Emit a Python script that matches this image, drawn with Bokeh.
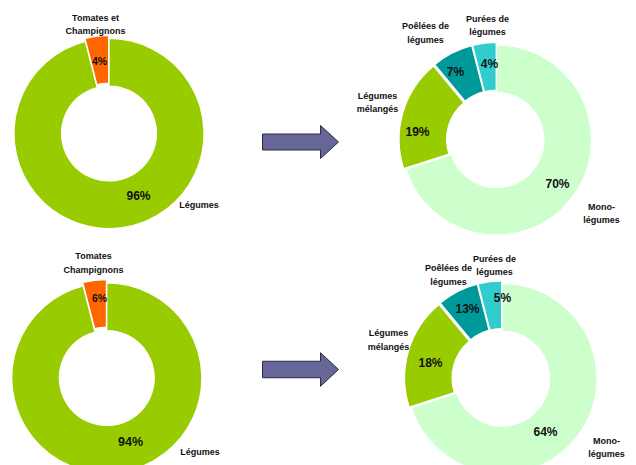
import numpy as np
from bokeh.plotting import figure
from bokeh.models import Range1d
from bokeh.core.properties import value
from bokeh.embed import file_html
from bokeh.resources import INLINE

# ---------------- data ----------------
left_categories = ["Légumes", "Tomates et Champignons"]
left_colors = ["#99CC00", "#FF6600"]
top_left_shares = [96, 4]          # slice sizes as drawn
bottom_left_shares = [96, 4]       # slice sizes as drawn in the picture
top_left_pct = ["96%", "4%"]
bottom_left_pct = ["94%", "6%"]
top_left_names = ["Légumes", "Tomates et\nChampignons"]
bottom_left_names = ["Légumes", "Tomates\nChampignons"]

right_categories = ["Mono-légumes", "Légumes mélangés", "Poêlées de légumes", "Purées de légumes"]
right_colors = ["#CCFFCC", "#99CC00", "#009999", "#33CCCC"]
top_right_shares = [70, 19, 7, 4]
bottom_right_shares = [70, 19, 7, 4]   # slice sizes as drawn in the picture
top_right_pct = ["70%", "19%", "7%", "4%"]
bottom_right_pct = ["64%", "18%", "13%", "5%"]
right_names = ["Mono-\nlégumes", "Légumes\nmélangés", "Poêlées de\nlégumes", "Purées de\nlégumes"]

# ---------------- layout ----------------
W, H = 636, 465
R_OUT, R_IN = 95, 47.5
FONT = value("Liberation Sans")

p = figure(width=W, height=H, output_backend="svg", toolbar_location=None,
           x_range=Range1d(0, W), y_range=Range1d(0, H),
           x_axis_location=None, y_axis_location=None, min_border=0)
p.grid.visible = False
p.outline_line_color = None
p.background_fill_color = "white"
p.border_fill_color = "white"


def Y(ypx):
    return H - np.asarray(ypx, dtype=float)


def donut(cx, cy_px, shares, colors, explode):
    fr = np.asarray(shares, dtype=float) / sum(shares)
    cum = np.concatenate([[0.0], np.cumsum(fr)])
    start = np.pi / 2 - 2 * np.pi * cum[1:]
    end = np.pi / 2 - 2 * np.pi * cum[:-1]
    mid = (start + end) / 2
    ex = np.asarray(explode, dtype=float)
    xs = cx + ex * np.cos(mid)
    ys = Y(cy_px) + ex * np.sin(mid)
    p.annular_wedge(x=xs, y=ys, inner_radius=R_IN, outer_radius=R_OUT,
                    start_angle=start, end_angle=end, direction="anticlock",
                    fill_color=colors, line_color="white", line_width=1.2)


def labels(xs, ys_px, texts, size, line_height=1.35):
    p.text(x=xs, y=Y(ys_px), text=texts, text_font=FONT, text_font_style="bold",
           text_font_size=size, text_align="center", text_baseline="middle",
           text_line_height=line_height, text_color="#111111")


def arrow(x0, x1, x2, yc, body_h, head_h):
    xs = [x0, x1, x1, x2, x1, x1, x0]
    ys = [yc - body_h / 2, yc - body_h / 2, yc - head_h / 2, yc,
          yc + head_h / 2, yc + body_h / 2, yc + body_h / 2]
    p.patch(x=xs, y=Y(ys), fill_color="#666699", line_color="#2b2b3a", line_width=1)


# top-left
donut(108.5, 133, top_left_shares, left_colors, [0, 3])
labels([138, 99], [195, 60], top_left_pct, ["12px", "10.5px"])
labels([198.5, 95], [204, 24], top_left_names, "9px")

# bottom-left
donut(106.3, 377.5, bottom_left_shares, left_colors, [0, 3.5])
labels([130, 99], [441, 297], bottom_left_pct, ["12.5px", "10.5px"])
labels([199.5, 93], [451, 262.5], bottom_left_names, "9px")

# top-right
donut(496, 139.5, top_right_shares, right_colors, [0, 2.5, 2.5, 2.5])
labels([557, 417, 455, 489], [183, 131, 71, 63], top_right_pct, "12px")
labels([601, 377, 425, 487], [213, 102, 32.5, 25], right_names, "9px")

# bottom-right
donut(501.5, 378, bottom_right_shares, right_colors, [0, 2.5, 2.5, 2.5])
labels([545, 430, 467, 502], [431, 362, 308, 297], bottom_right_pct, "12px")
labels([606, 388, 448, 494], [447, 339.5, 274.5, 265], right_names, "9px")

# arrows
arrow(262, 320, 338, 141.5, 16, 33)
arrow(262, 320, 338, 369, 16.5, 33.5)

open("out.html", "w").write(file_html(p, INLINE))
